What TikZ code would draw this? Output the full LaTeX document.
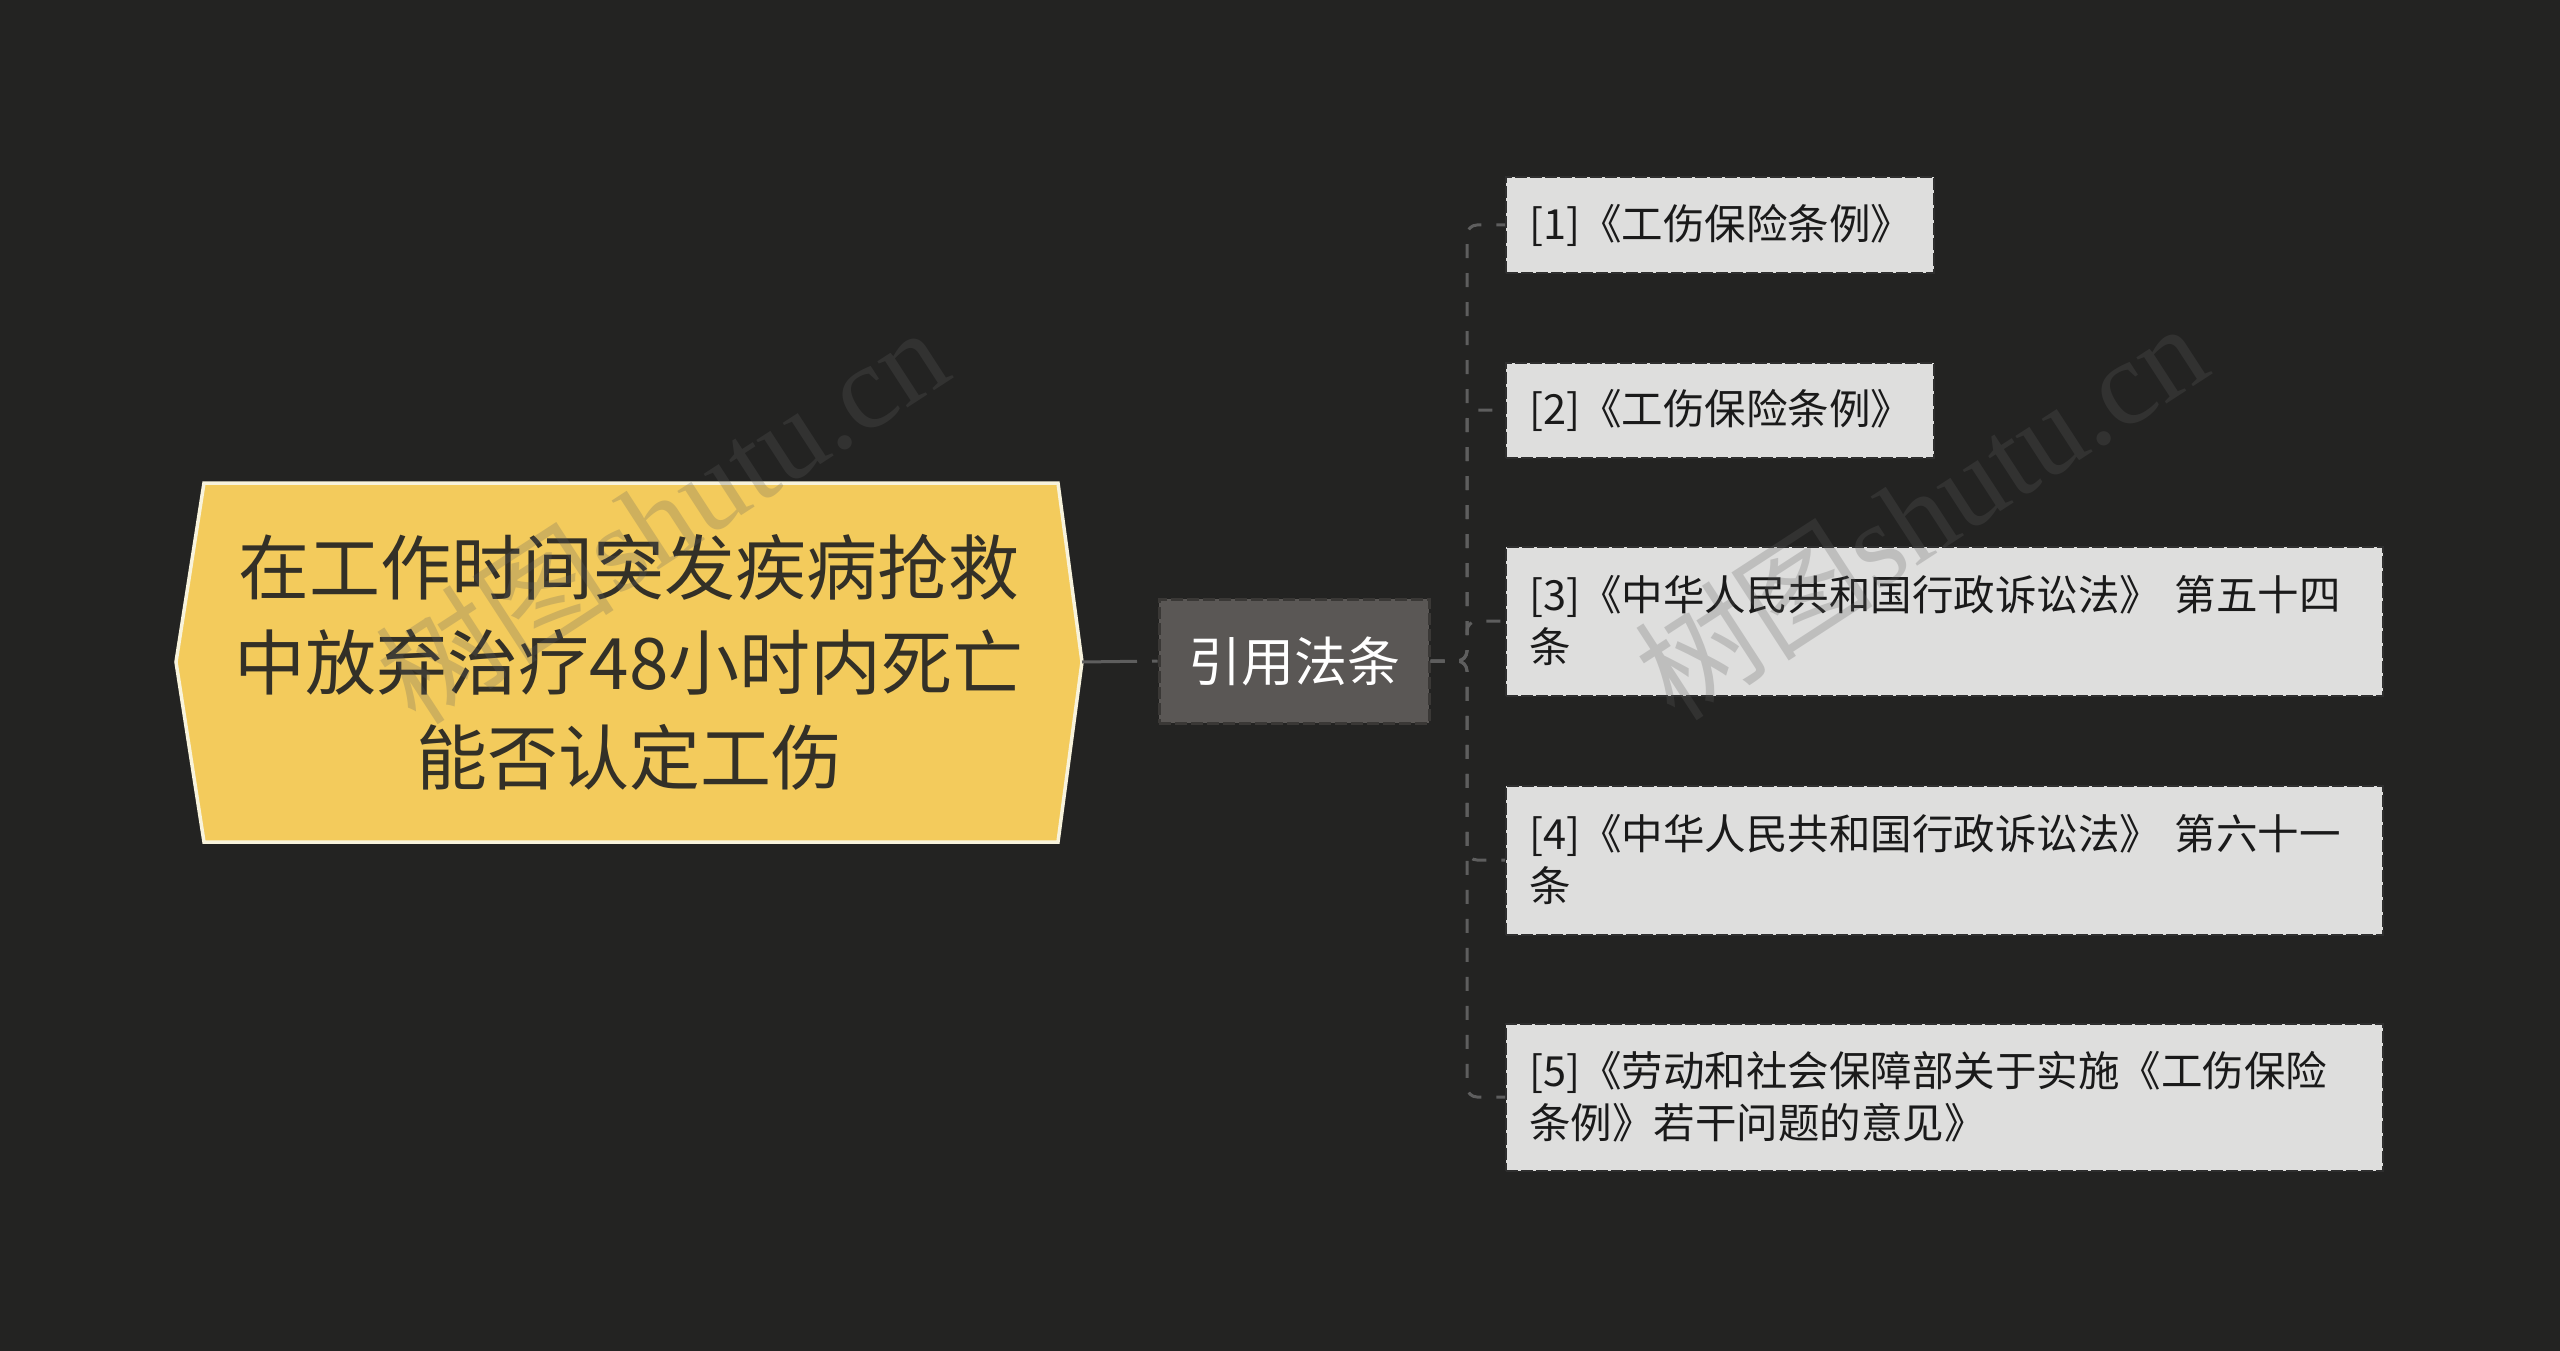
\documentclass[tikz,border=0pt]{standalone}
\usepackage{fontspec}
\setmainfont{Noto Sans CJK SC}
\newfontfamily\wmserif{Liberation Serif}
\newfontfamily\wmcjk{Noto Sans CJK SC}
\definecolor{bgc}{HTML}{232322}
\definecolor{rootfill}{HTML}{F3CB5C}
\definecolor{rootline}{HTML}{F8F3DC}
\definecolor{roottext}{HTML}{333027}
\definecolor{midfill}{HTML}{5A5755}
\definecolor{midline}{HTML}{3A3836}
\definecolor{leaffill}{HTML}{DEDEDD}
\definecolor{leafline}{HTML}{2E2E2E}
\definecolor{leaftext}{HTML}{1A1A1A}
\definecolor{linkc}{HTML}{5E5E5E}
\definecolor{wmc}{HTML}{606060}
\tikzset{
  roottext/.style={text=roottext, align=center, inner sep=0pt, font=\fontsize{71}{95}\selectfont},
  midbox/.style={fill=midfill, draw=midline, line width=3pt, dash pattern=on 12pt off 4pt,
    minimum width=270pt, minimum height=124pt, inner sep=0pt, text=white,
    font=\fontsize{53}{60}\selectfont},
  leafbox/.style={fill=leaffill, draw=leafline, line width=2pt, dash pattern=on 12pt off 3pt,
    anchor=west, inner xsep=23pt, inner ysep=0pt, align=left, text=leaftext,
    font=\fontsize{41.5}{52}\selectfont},
  link/.style={draw=linkc, line width=3pt},
  trunk/.style={link, dash pattern=on 14pt off 15pt, rounded corners=10pt},
  wmark/.style={text=wmc, opacity=0.25, rotate=33, inner sep=0pt}
}
\begin{document}
\begin{tikzpicture}[x=1pt,y=-1pt]
\fill[bgc] (0,0) rectangle (2560,1351);
\useasboundingbox (0,0) rectangle (2560,1351);
% root hexagon
\fill[rootfill] (176,662) -- (204,483) -- (1058,483) -- (1082,662) -- (1058,842) -- (204,842) -- cycle;
\draw[rootline, line width=3.5pt, line join=miter] (176,662) -- (204,483) -- (1058,483) -- (1082,662) -- (1058,842) -- (204,842) -- cycle;
\node[roottext] (root) at (629,662) {在工作时间突发疾病抢救\\中放弃治疗48小时内死亡\\能否认定工伤};
\coordinate (roottip) at (1082,662);
% middle
\node[midbox] (mid) at (1294,661) {引用法条};
\draw[link, dash pattern=on 55pt off 15pt] (roottip) -- (mid.west);
% leaves
\node[leafbox, text width=382pt, minimum height=95pt] (c1) at (1505,225) {[1]《工伤保险条例》};
\node[leafbox, text width=382pt, minimum height=95pt] (c2) at (1505,410) {[2]《工伤保险条例》};
\node[leafbox, text width=831pt, minimum height=149pt] (c3) at (1505,621) {[3]《中华人民共和国行政诉讼法》 第五十四\\条};
\node[leafbox, text width=831pt, minimum height=149pt] (c4) at (1505,860) {[4]《中华人民共和国行政诉讼法》 第六十一\\条};
\node[leafbox, text width=831pt, minimum height=147pt] (c5) at (1505,1097) {[5]《劳动和社会保障部关于实施《工伤保险\\条例》若干问题的意见》};
\coordinate (tr) at (1467,661);
\foreach \c in {c1,c2,c3,c4,c5}{
  \draw[trunk] (mid.east) -- (tr) |- (\c.west);
}
% watermarks
\node[wmark] (wm1) at (661,514) {\fontsize{120}{120}\selectfont\wmcjk 树图\wmserif shutu.cn};
\node[wmark] (wm2) at (1920,510) {\fontsize{120}{120}\selectfont\wmcjk 树图\wmserif shutu.cn};
\end{tikzpicture}
\end{document}
